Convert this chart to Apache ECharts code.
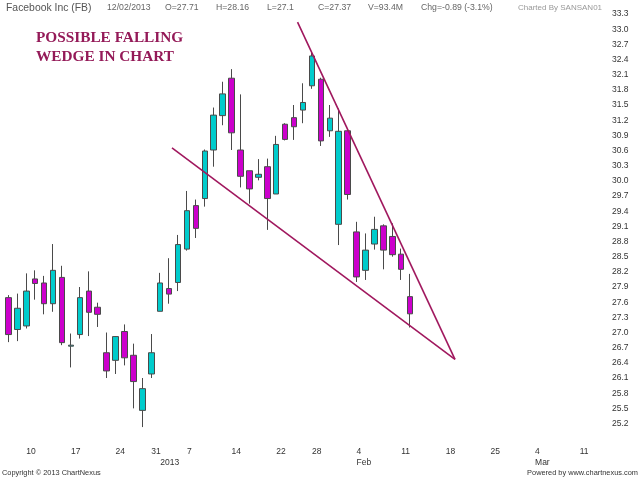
<!DOCTYPE html>
<html>
<head>
<meta charset="utf-8">
<title>Facebook Inc (FB)</title>
<script src="https://cdn.jsdelivr.net/npm/echarts@6.0.0/dist/echarts.min.js"></script>
<style>
  html, body { margin: 0; padding: 0; background: #fff; }
  #chart { width: 640px; height: 480px; }
</style>
</head>
<body>
<div id="chart"></div>
<script>
// trading days shown, then the empty weekdays to the right of the last bar
var tradeDates = ['2012-12-06', '2012-12-07', '2012-12-10', '2012-12-11', '2012-12-12', '2012-12-13', '2012-12-14',
    '2012-12-17', '2012-12-18', '2012-12-19', '2012-12-20', '2012-12-21', '2012-12-24', '2012-12-26', '2012-12-27',
    '2012-12-28', '2012-12-31', '2013-01-02', '2013-01-03', '2013-01-04', '2013-01-07', '2013-01-08', '2013-01-09',
    '2013-01-10', '2013-01-11', '2013-01-14', '2013-01-15', '2013-01-16', '2013-01-17', '2013-01-18', '2013-01-22',
    '2013-01-23', '2013-01-24', '2013-01-25', '2013-01-28', '2013-01-29', '2013-01-30', '2013-01-31', '2013-02-01',
    '2013-02-04', '2013-02-05', '2013-02-06', '2013-02-07', '2013-02-08', '2013-02-11', '2013-02-12'];
var futureDates = ['2013-02-13', '2013-02-14', '2013-02-15', '2013-02-18', '2013-02-19', '2013-02-20', '2013-02-21',
    '2013-02-22', '2013-02-25', '2013-02-26', '2013-02-27', '2013-02-28', '2013-03-01', '2013-03-04', '2013-03-05',
    '2013-03-06', '2013-03-07', '2013-03-08', '2013-03-11', '2013-03-12', '2013-03-13'];

var opens = [27.69, 27.06, 27.13, 28.06, 27.98, 27.57, 28.09, 26.73, 26.96, 27.82, 27.50, 26.60, 26.45, 27.02, 26.55,
    25.46, 26.18, 27.42, 27.87, 27.99, 28.65, 29.51, 29.65, 30.61, 31.29, 32.03, 30.61, 30.20, 30.07, 30.28, 29.74,
    31.12, 31.25, 31.40, 31.88, 32.01, 30.99, 29.14, 30.99, 28.99, 28.23, 28.75, 29.11, 28.90, 28.55, 27.71];
var closes = [26.96, 27.48, 27.82, 27.97, 27.57, 28.23, 26.80, 26.75, 27.69, 27.40, 27.36, 26.24, 26.92, 26.50, 26.03,
    25.89, 26.60, 27.98, 27.76, 28.74, 29.41, 29.06, 30.59, 31.30, 31.72, 30.95, 30.09, 29.84, 30.13, 29.65, 30.72,
    30.82, 31.07, 31.55, 32.47, 30.79, 31.24, 30.98, 29.73, 28.10, 28.63, 29.04, 28.63, 28.54, 28.25, 27.37];
var lows = [26.81, 26.83, 27.08, 27.65, 27.36, 27.41, 26.75, 26.31, 26.88, 26.93, 27.11, 26.10, 26.18, 26.35, 25.50,
    25.13, 26.10, 27.42, 27.57, 27.82, 28.62, 28.87, 29.49, 30.28, 31.10, 30.61, 29.87, 29.55, 30.01, 29.03, 29.74,
    30.80, 30.81, 31.14, 31.82, 30.69, 30.87, 28.73, 29.63, 28.00, 28.04, 28.64, 28.25, 28.50, 28.04, 27.10];
var highs = [27.74, 27.77, 28.17, 28.23, 28.12, 28.75, 28.32, 26.98, 27.90, 28.21, 27.59, 27.00, 26.93, 27.16, 26.78,
    26.10, 26.97, 28.18, 28.47, 28.93, 29.80, 29.63, 30.62, 31.45, 31.96, 32.21, 31.71, 30.20, 30.43, 30.44, 30.89,
    31.14, 31.50, 31.93, 32.55, 32.04, 31.50, 31.43, 31.02, 29.19, 28.96, 29.29, 29.14, 29.16, 28.66, 28.16];

var lastVolume = '93.4M';
var lastChange = '-0.89 (-3.1%)';

// week ticks and the month row under them
var weekTicks = ['2012-12-10', '2012-12-17', '2012-12-24', '2012-12-31', '2013-01-07', '2013-01-14', '2013-01-22',
    '2013-01-28', '2013-02-04', '2013-02-11', '2013-02-18', '2013-02-25', '2013-03-04', '2013-03-11'];
var monthTicks = { '2013-01-02': '2013', '2013-02-04': 'Feb', '2013-03-04': 'Mar' };

// wedge trend lines: [bar index, price]
var wedgeUpper = [[32.39, 33.14], [50.03, 26.47]];
var wedgeLower = [[18.32, 30.65], [50.03, 26.47]];

(function () {
    'use strict';

    var allDates = tradeDates.concat(futureDates);
    var chart = echarts.init(document.getElementById('chart'), null, { renderer: 'canvas' });
    var sans = '"Liberation Sans", Arial, sans-serif';

    function candleData() {
        var out = [];
        for (var i = 0; i < tradeDates.length; i++) {
            out.push([opens[i], closes[i], lows[i], highs[i]]);
        }
        return out;
    }

    function showTick(index, value) {
        return weekTicks.indexOf(value) >= 0 || monthTicks[value] !== undefined;
    }

    function tickText(value) {
        var day = weekTicks.indexOf(value) >= 0 ? String(Number(value.slice(8))) : '';
        return day + '\n' + (monthTicks[value] || '');
    }

    function headerText() {
        var n = tradeDates.length - 1;
        var d = tradeDates[n].split('-');
        return [
            { x: 6, text: 'Facebook Inc (FB)', size: 10.4, color: '#555' },
            { x: 107, text: d[2] + '/' + d[1] + '/' + d[0], size: 8.7, color: '#666' },
            { x: 165, text: 'O=' + opens[n], size: 8.7, color: '#666' },
            { x: 216, text: 'H=' + highs[n], size: 8.7, color: '#666' },
            { x: 267, text: 'L=' + lows[n], size: 8.7, color: '#666' },
            { x: 318, text: 'C=' + closes[n], size: 8.7, color: '#666' },
            { x: 368, text: 'V=' + lastVolume, size: 8.7, color: '#666' },
            { x: 421, text: 'Chg=' + lastChange, size: 8.7, color: '#666' },
            { x: 518, text: 'Charted By SANSAN01', size: 8, color: '#999' }
        ].map(function (h) {
            return {
                type: 'text', x: h.x, y: 8, silent: true,
                style: { text: h.text, font: h.size + 'px ' + sans, fill: h.color, verticalAlign: 'middle' }
            };
        });
    }

    var graphics = headerText().concat([
        {
            type: 'text', x: 36, y: 29, silent: true,
            style: {
                text: 'POSSIBLE FALLING\nWEDGE IN CHART',
                font: 'bold 15.3px "Liberation Serif", "Times New Roman", serif',
                fill: '#941a58', lineHeight: 19
            }
        },
        {
            type: 'text', x: 2, y: 473, silent: true,
            style: { text: 'Copyright \u00a9 2013 ChartNexus', font: '7.4px ' + sans, fill: '#333', verticalAlign: 'middle' }
        },
        {
            type: 'text', x: 638, y: 473, silent: true,
            style: { text: 'Powered by www.chartnexus.com', font: '7.4px ' + sans, fill: '#333', align: 'right', verticalAlign: 'middle' }
        }
    ]);

    var wedgeStyle = { color: '#a0185e', width: 1.6 };

    chart.setOption({
        animation: false,
        backgroundColor: '#fff',
        grid: { left: 4, right: 38, top: 14, bottom: 41.3, outerBoundsMode: 'none' },
        xAxis: [{
            type: 'category',
            data: allDates,
            boundaryGap: true,
            axisLine: { show: false },
            axisTick: { show: false },
            splitLine: { show: false },
            axisLabel: {
                interval: showTick,
                formatter: tickText,
                align: 'left',
                margin: 7,
                fontSize: 8.5,
                lineHeight: 11,
                color: '#333',
                fontFamily: sans,
                hideOverlap: false
            }
        }, {
            type: 'value',
            min: -0.5,
            max: allDates.length - 0.5,
            show: false
        }],
        yAxis: {
            type: 'value',
            position: 'right',
            min: 24.9,
            max: 33.3,
            interval: 0.3,
            axisLine: { show: false },
            axisTick: { show: false },
            splitLine: { show: false },
            axisLabel: {
                margin: 10,
                fontSize: 8.5,
                color: '#333',
                fontFamily: sans,
                formatter: function (v) {
                    return v < 25 ? '' : v.toFixed(1);
                }
            }
        },
        series: [{
            type: 'candlestick',
            data: candleData(),
            barWidth: 6,
            itemStyle: {
                color: '#00cccc',
                color0: '#cc00cc',
                borderColor: '#4a4a4a',
                borderColor0: '#4a4a4a',
                borderColorDoji: '#4a4a4a',
                borderWidth: 1
            }
        }, {
            type: 'line',
            xAxisIndex: 1,
            data: wedgeUpper,
            symbol: 'none',
            lineStyle: wedgeStyle,
            silent: true
        }, {
            type: 'line',
            xAxisIndex: 1,
            data: wedgeLower,
            symbol: 'none',
            lineStyle: wedgeStyle,
            silent: true
        }],
        graphic: graphics
    });
})();
</script>
</body>
</html>
